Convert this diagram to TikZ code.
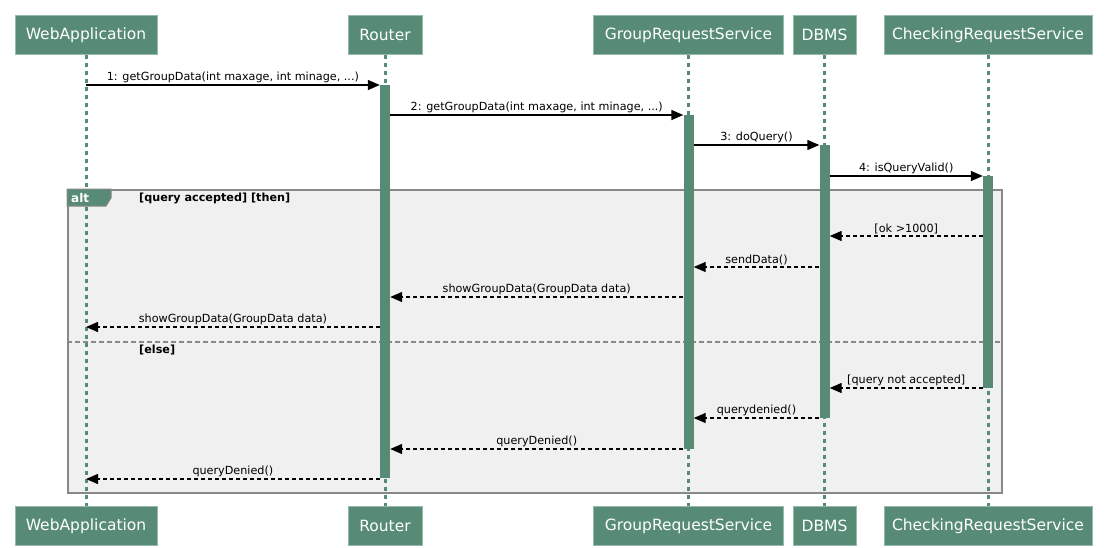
\documentclass[tikz,border=0pt]{standalone}
\usepackage{fontspec}
\setmainfont{DejaVu Sans}
\usepackage{tikz}
\usetikzlibrary{arrows.meta}
\usetikzlibrary{calc,backgrounds}
\definecolor{umlgreen}{RGB}{87,139,117}
\definecolor{umledge}{RGB}{150,186,170}
\definecolor{framebg}{RGB}{240,240,240}
\definecolor{framegray}{RGB}{136,136,136}

\begin{document}
\begin{tikzpicture}[x=1pt,y=-1pt,
 actor/.style={fill=umlgreen,draw=umledge,text=white,inner sep=0pt,minimum height=39,font=\fontsize{15.5}{18}\selectfont},
 lifeline/.style={draw=umlgreen,line width=3pt,dash pattern=on 4pt off 4pt},
 activation/.style={fill=umlgreen,draw=none,minimum width=10,inner sep=0pt,anchor=north},
 call/.style={black,line width=1.4pt,-{Triangle[length=12pt,width=10pt]}},
 reply/.style={call,dash pattern=on 4pt off 3pt},
 msg/.style={above,inner sep=1.5pt,font=\fontsize{11.2}{13}\selectfont},
 guard/.style={anchor=west,inner sep=0pt,font=\bfseries\fontsize{11.2}{13}\selectfont}]
\useasboundingbox (0,0) rectangle (1106,547);
\foreach \n/\x/\w/\t in {web/86/142/WebApplication,router/385/74/Router,grs/688.5/190/GroupRequestService,dbms/824.5/63/DBMS,crs/988/208/CheckingRequestService} {
 \node[actor,minimum width=\w] (top\n) at (\x,35) {\t};
 \node[actor,minimum width=\w] (bot\n) at (\x,526) {\t};
 \draw[lifeline] (top\n.south) -- (bot\n.north);
}
\begin{scope}[on background layer]
\node[fill=framebg,draw=framegray,line width=1.5pt,minimum width=934,minimum height=303,anchor=north west,inner sep=0pt] (alt) at (67,189) {};
\draw[fill=umlgreen,draw=framegray,line width=1pt] (alt.north west) -- ++(44,0) -- ++(0,9) -- ++(-5,8) -- ++(-39,0) -- cycle;
\draw[framegray,line width=1.5pt,dash pattern=on 5pt off 3pt] (alt.west |- 0,342) -- (alt.east |- 0,342);
\end{scope}
\node[anchor=west,text=white,inner sep=0pt,font=\bfseries\fontsize{12}{14}\selectfont] (alttab) at (71,198) {alt};
\node[guard] (guardthen) at (139,198) {[query accepted] [then]};
\node[guard] (guardelse) at (139,350) {[else]};
\foreach \n/\a/\b in {router/85/478,grs/115/449,dbms/145/418,crs/176/388}
 \node[activation,minimum height={\b-\a}] (act\n) at (top\n.south |- 0,\a) {};
\draw[call] (topweb |- actrouter.north) -- node[msg]{1: getGroupData(int maxage, int minage, ...)} (actrouter.north west);
\draw[call] (actrouter.east |- actgrs.north) -- node[msg]{2: getGroupData(int maxage, int minage, ...)} (actgrs.north west);
\draw[call] (actgrs.east |- actdbms.north) -- node[msg]{3: doQuery()} (actdbms.north west);
\draw[call] (actdbms.east |- actcrs.north) -- node[msg]{4: isQueryValid()} (actcrs.north west);
\foreach \s/\t/\y/\l in {actcrs.west/actdbms.east/236/{[ok >1000]},actdbms.west/actgrs.east/267/{sendData()},actgrs.west/actrouter.east/297/{showGroupData(GroupData data)},actrouter.west/topweb/327/{showGroupData(GroupData data)},actcrs.west/actdbms.east/388/{[query not accepted]},actdbms.west/actgrs.east/418/{querydenied()},actgrs.west/actrouter.east/449/{queryDenied()},actrouter.west/topweb/479/{queryDenied()}}
 \draw[reply] (\s |- 0,\y) -- node[msg]{\l} (\t |- 0,\y);
\end{tikzpicture}
\end{document}
